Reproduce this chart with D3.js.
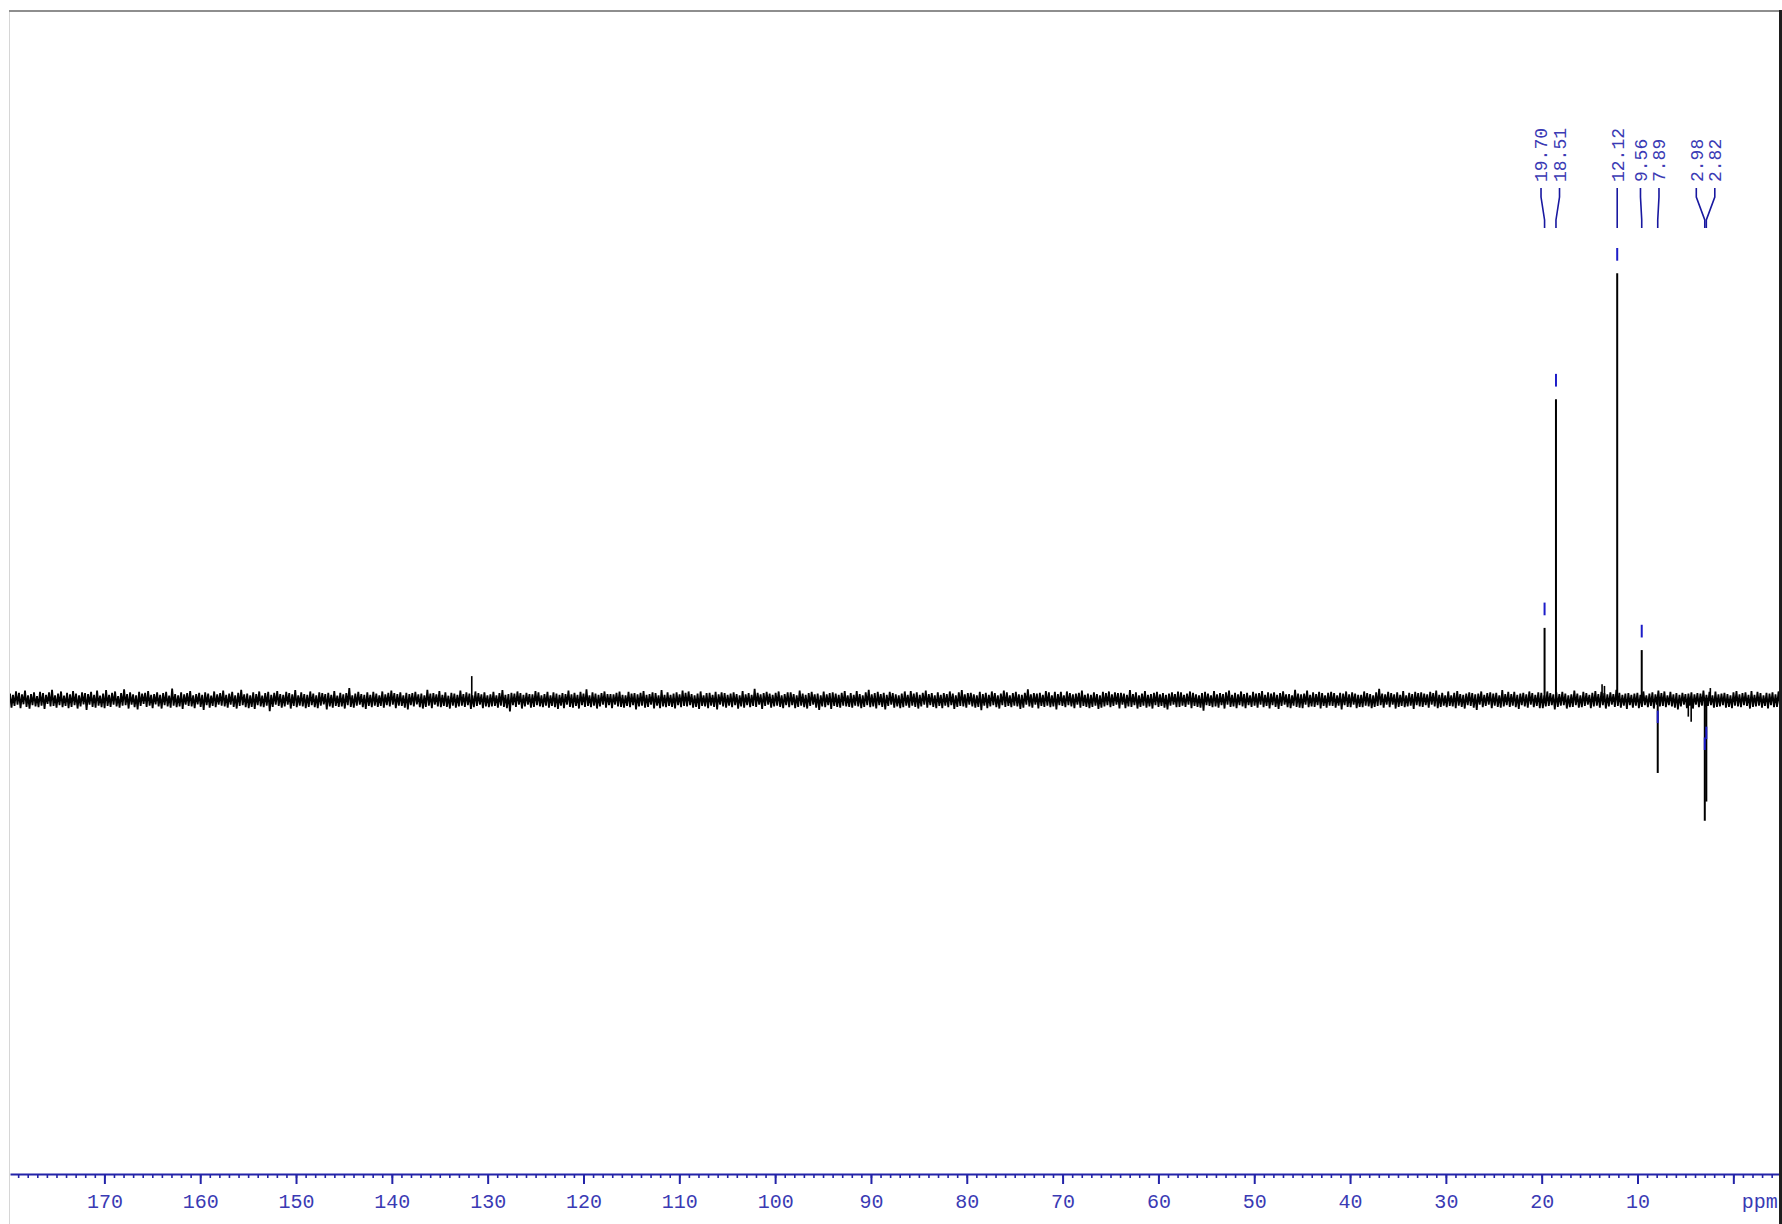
<!DOCTYPE html>
<html>
<head>
<meta charset="utf-8">
<script src="https://cdn.jsdelivr.net/npm/d3@7"></script>
<style>
  html, body { margin: 0; padding: 0; background: #fff; overflow: hidden; }
  svg { display: block; }
</style>
</head>
<body>
<svg id="chart" width="1782" height="1224"></svg>
<script>
// Chemical shift window shown (ppm), low field on the left
const ppmRange = [179.85, -4.87];

// Axis ticks (ppm) and their labels
const majorTicks = [170, 160, 150, 140, 130, 120, 110, 100, 90, 80, 70, 60, 50, 40, 30, 20, 10, 0];
const tickLabels = ["170", "160", "150", "140", "130", "120", "110", "100", "90", "80", "70", "60", "50", "40", "30", "20", "10", ""];
const unitLabel = "ppm";

// Picked peaks: shift (ppm), intensity (tallest = 1000), printed label
const peakShifts = [19.70, 18.51, 12.12, 9.56, 7.89, 2.98, 2.82];
const peakHeights = [169, 705, 1000, 117, -171, -283, -238];
const peakLabels = ["19.70", "18.51", "12.12", "9.56", "7.89", "2.98", "2.82"];

// Small unpicked signals standing out of the noise
const minorShifts = [131.66, 13.70, 13.45, 4.70, 4.40, 2.40];
const minorHeights = [56, 37, 33, -39, -51, 28];

// Baseline noise, evenly sampled across the window (same intensity units)
const noise = [
  15,-18,12,-14,20,-11,17,-19,13,-10,22,-16,11,-20,14,-12,18,-15,9,-17,
  19,-13,16,-21,12,-9,18,-15,24,-14,11,-18,15,-12,20,-17,10,-14,17,-19,
  13,-16,21,-12,15,-20,11,-15,18,-10,16,-23,14,-11,19,-16,12,-18,22,-13,
  10,-17,15,-19,23,-14,12,-16,17,-11,20,-15,9,-18,16,-13,25,-12,14,-20,
  18,-11,13,-17,11,-22,19,-14,15,-9,17,-16,21,-13,12,-19,14,-10,18,-15,
  12,-20,16,-12,19,-15,10,-18,27,-13,14,-17,11,-15,18,-21,13,-11,16,-14,
  21,-15,11,-19,14,-10,17,-16,12,-23,18,-12,15,-18,10,-14,20,-17,13,-11,
  16,-13,22,-15,12,-18,15,-11,19,-16,11,-20,17,-14,24,-12,13,-17,15,-19,
  11,-16,18,-21,14,-12,20,-15,10,-17,16,-13,19,-26,12,-16,17,-11,21,-14,
  14,-18,12,-15,19,-11,16,-20,13,-14,23,-17,11,-13,18,-15,14,-19,12,-16,
  20,-12,15,-17,11,-19,18,-13,16,-10,14,-22,17,-15,12,-18,21,-14,10,-16,
  17,-15,13,-20,16,-12,28,-16,11,-18,15,-13,19,-11,14,-17,12,-21,18,-14,
  12,-17,19,-13,15,-16,11,-14,20,-18,13,-12,17,-15,22,-11,16,-19,14,-13,
  18,-14,11,-18,17,-22,14,-12,16,-15,19,-10,13,-17,15,-20,11,-16,24,-13,
  15,-19,16,-11,13,-15,21,-17,12,-14,18,-16,10,-20,17,-13,15,-18,12,-15,
  22,-13,14,-16,18,-12,15,-21,11,-17,20,-14,16,-11,13,-19,18,-15,11,-17,
  13,-15,19,-14,11,-18,16,-13,23,-16,12,-19,14,-27,17,-12,15,-16,20,-11,
  16,-20,12,-15,17,-11,14,-18,13,-16,21,-12,18,-15,11,-17,14,-13,19,-18,
  11,-14,18,-17,15,-21,12,-13,16,-19,14,-11,22,-16,13,-18,17,-14,12,-20,
  19,-12,15,-16,25,-14,11,-17,18,-13,15,-20,12,-15,16,-11,20,-18,14,-12,
  14,-19,13,-11,17,-15,20,-16,12,-18,11,-14,19,-17,15,-12,16,-22,13,-15,
  17,-13,21,-18,12,-16,14,-11,18,-20,16,-13,11,-19,23,-15,12,-17,18,-14,
  12,-16,15,-20,18,-12,13,-17,22,-14,17,-15,20,-12,14,-18,11,-16,15,-21,
  20,-14,11,-15,16,-19,17,-13,12,-16,19,-22,13,-11,18,-15,16,-18,12,-13,
  15,-17,18,-12,14,-20,11,-15,21,-18,13,-12,16,-17,12,-14,26,-16,17,-11,
  13,-21,16,-14,19,-11,15,-18,12,-15,17,-13,20,-16,11,-19,14,-12,18,-17,
  18,-12,14,-19,11,-16,22,-13,15,-17,12,-20,16,-14,19,-11,13,-18,15,-23,
  11,-15,20,-17,13,-12,16,-21,18,-14,15,-16,12,-18,17,-13,21,-15,11,-16,
  16,-18,12,-13,21,-15,14,-19,11,-16,18,-12,24,-17,13,-15,16,-20,19,-12,
  14,-16,17,-22,12,-14,19,-11,16,-18,13,-15,11,-19,15,-17,20,-13,12,-18,
  21,-13,15,-16,18,-20,12,-15,17,-11,22,-18,14,-12,16,-16,11,-19,18,-14,
  12,-19,16,-13,14,-17,20,-12,15,-21,11,-16,18,-14,23,-15,13,-18,16,-11,
  17,-15,13,-18,11,-16,19,-24,14,-13,17,-19,12,-15,20,-12,16,-17,11,-20,
  15,-12,22,-16,18,-14,11,-17,16,-13,19,-15,13,-21,12,-18,17,-11,25,-15,
  13,-18,16,-11,15,-20,17,-14,12,-16,21,-13,18,-17,11,-15,19,-22,14,-12,
  19,-14,11,-17,20,-12,16,-15,13,-19,15,-11,17,-18,22,-14,12,-16,15,-19,
  12,-16,18,-13,14,-21,11,-18,19,-15,16,-12,20,-17,13,-14,18,-11,16,-20,
  17,-11,15,-19,12,-15,23,-16,14,-12,18,-20,11,-16,15,-13,21,-18,12,-15,
  14,-20,17,-12,19,-16,13,-14,16,-18,12,-22,15,-13,18,-11,14,-17,20,-16,
  18,-13,12,-16,15,-11,20,-19,17,-14,13,-16,11,-18,16,-25,19,-12,15,-14,
  11,-17,21,-15,13,-18,16,-12,14,-20,18,-11,22,-16,12,-15,17,-19,13,-12,
  20,-15,14,-19,17,-12,11,-16,19,-13,15,-18,16,-11,21,-17,12,-14,18,-20,
  15,-12,18,-16,12,-21,16,-14,20,-11,13,-17,14,-19,11,-13,24,-16,15,-18,
  13,-19,15,-11,22,-17,12,-15,18,-16,14,-12,19,-20,16,-14,11,-18,17,-13,
  19,-14,16,-18,11,-13,17,-22,15,-12,20,-16,13,-17,18,-11,15,-19,12,-16,
  12,-17,20,-13,16,-15,14,-19,11,-16,18,-14,26,-12,15,-18,13,-11,19,-17,
  16,-11,13,-20,18,-16,12,-14,21,-17,11,-15,17,-13,14,-21,19,-12,16,-15,
  18,-16,15,-12,13,-18,19,-11,16,-15,22,-19,12,-16,17,-13,11,-17,20,-14,
  11,-15,17,-19,21,-13,14,-16,12,-20,15,-12,18,-14,16,-18,13,-23,15,-11,
  20,-17,12,-14,16,-11,18,-19,15,-13,17,-16,11,-18,23,-15,14,-12,19,-16,
  14,-13,19,-17,12,-21,15,-12,17,-15,13,-18,20,-11,16,-17,12,-14,18,-19,
  17,-19,11,-15,20,-14,16,-12,13,-22,18,-16,14,-13,19,-12,15,-20,11,-17,
  13,-16,22,-12,15,-18,11,-17,19,-14,16,-11,12,-19,17,-15,21,-13,14,-18,
  19,-12,16,-20,13,-15,18,-11,14,-16,24,-14,17,-18,12,-13,15,-21,16,-12,
  12,-18,15,-13,17,-19,12,-16,20,-12,11,-17,15,-14,18,-20,13,-11,22,-15,
  16,-14,20,-17,11,-12,19,-15,13,-18,16,-22,12,-15,17,-11,14,-19,15,-13,
  18,-20,13,-11,16,-17,15,-13,22,-16,12,-14,19,-12,11,-18,20,-16,13,-15,
  15,-12,17,-18,14,-16,11,-19,18,-13,21,-15,13,-17,16,-12,18,-14,12,-20,
  21,-16,12,-15,19,-13,16,-18,11,-14,17,-20,15,-12,18,-17,13,-16,20,-14
];

const W = 1782, H = 1224;
const plotLeft = 10, plotRight = 1780, plotTop = 10;
const axisY = 1174;
const blue = "#2323a8", textBlue = "#3a3ab4", markBlue = "#1c1cc8";

const svg = d3.select("#chart");

const x = d3.scaleLinear().domain(ppmRange).range([plotLeft, plotRight]);
const y = d3.scaleLinear().domain([0, 1000]).range([700, 273.3]);

// Frame
svg.append("rect").attr("x", 9).attr("y", plotTop).attr("width", 1).attr("height", H - plotTop).attr("fill", "#d6d6d6");
svg.append("rect").attr("x", 9).attr("y", plotTop).attr("width", W - 9).attr("height", 2).attr("fill", "#8e8e8e");

svg.append("clipPath").attr("id", "plotClip")
  .append("rect").attr("x", plotLeft).attr("y", plotTop).attr("width", plotRight - plotLeft - 1).attr("height", axisY - plotTop);

const spec = svg.append("g").attr("clip-path", "url(#plotClip)");

// Baseline noise trace
const idx = d3.scaleLinear().domain([0, noise.length - 1]).range(ppmRange);
const line = d3.line().x(d => x(d[0])).y(d => y(d[1]));
spec.append("path")
  .datum(noise.map((v, i) => [idx(i), v]))
  .attr("d", line)
  .attr("fill", "none")
  .attr("stroke", "#000")
  .attr("stroke-width", 1.8)
  .attr("stroke-linejoin", "bevel");

// Small signals
spec.selectAll("line.minor").data(minorShifts).join("line")
  .attr("class", "minor")
  .attr("x1", d => x(d)).attr("x2", d => x(d))
  .attr("y1", y(0)).attr("y2", (d, i) => y(minorHeights[i]))
  .attr("stroke", "#000").attr("stroke-width", 1.6);

// Picked peaks
spec.selectAll("line.peak").data(peakShifts).join("line")
  .attr("class", "peak")
  .attr("x1", d => x(d)).attr("x2", d => x(d))
  .attr("y1", y(0)).attr("y2", (d, i) => y(peakHeights[i]))
  .attr("stroke", "#000").attr("stroke-width", 2);

// Peak pick markers
spec.selectAll("line.mark").data(peakShifts).join("line")
  .attr("class", "mark")
  .attr("x1", d => x(d)).attr("x2", d => x(d))
  .attr("y1", (d, i) => {
    const h = peakHeights[i], top = y(h);
    if (h > 0) return top - 25.3;
    const depth = top - y(0);
    return y(0) + 0.563 * depth - 18 - 12.5;
  })
  .attr("y2", (d, i) => {
    const h = peakHeights[i], top = y(h);
    if (h > 0) return top - 12.6;
    const depth = top - y(0);
    return y(0) + 0.563 * depth - 18;
  })
  .attr("stroke", markBlue).attr("stroke-width", 2);

// Label placement: spread crowded labels symmetrically with a minimum spacing
function spreadLabels(xs, gap) {
  let clusters = xs.map((v, i) => ({ lo: i, hi: i, c: v }));
  let merged = true;
  while (merged) {
    merged = false;
    for (let k = 0; k < clusters.length - 1; k++) {
      const a = clusters[k], b = clusters[k + 1];
      const aEnd = a.c + (a.hi - a.lo) * gap / 2;
      const bStart = b.c - (b.hi - b.lo) * gap / 2;
      if (bStart - aEnd < gap) {
        const lo = a.lo, hi = b.hi;
        clusters.splice(k, 2, { lo, hi, c: d3.mean(xs.slice(lo, hi + 1)) });
        merged = true;
        break;
      }
    }
  }
  const out = [];
  clusters.forEach(cl => {
    const n = cl.hi - cl.lo + 1;
    for (let i = 0; i < n; i++) out[cl.lo + i] = cl.c + (i - (n - 1) / 2) * gap;
  });
  return out;
}

const order = d3.range(peakShifts.length).sort((a, b) => x(peakShifts[a]) - x(peakShifts[b]));
const natural = order.map(i => x(peakShifts[i]));
const spread = spreadLabels(natural, 18.5);
const labelX = [];
order.forEach((i, k) => { labelX[i] = spread[k]; });

const labels = svg.append("g");
const connector = d3.line();
peakShifts.forEach((s, i) => {
  const lx = labelX[i], px = x(s);
  labels.append("path")
    .attr("d", connector([[lx, 188], [lx, 197], [px, 220], [px, 228]]))
    .attr("fill", "none").attr("stroke", "#1818a0").attr("stroke-width", 1.6);
  labels.append("text")
    .attr("transform", `translate(${lx},182) rotate(-90)`)
    .attr("dy", "0.35em")
    .attr("font-family", "'Liberation Mono', 'DejaVu Sans Mono', monospace")
    .attr("font-size", 18)
    .attr("fill", textBlue)
    .text(peakLabels[i]);
});

// Axis: minor ticks every 1 ppm, major every 10 ppm
const minorAxis = d3.axisBottom(x)
  .tickValues(d3.range(-4, 180, 1))
  .tickSize(4).tickSizeOuter(0).tickFormat("");
const gMinor = svg.append("g").attr("transform", `translate(0,${axisY})`).call(minorAxis);
gMinor.select(".domain").attr("stroke", blue).attr("stroke-width", 2);
gMinor.selectAll(".tick line").attr("stroke", blue).attr("stroke-width", 1.6);

const majorAxis = d3.axisBottom(x)
  .tickValues(majorTicks)
  .tickSize(10).tickSizeOuter(0).tickPadding(10)
  .tickFormat((d, i) => tickLabels[i]);
const gMajor = svg.append("g").attr("transform", `translate(0,${axisY})`).call(majorAxis);
gMajor.select(".domain").remove();
gMajor.selectAll(".tick line").attr("stroke", blue).attr("stroke-width", 2);
gMajor.selectAll(".tick text")
  .attr("font-family", "'Liberation Mono', 'DejaVu Sans Mono', monospace")
  .attr("font-size", 20)
  .attr("fill", textBlue);

svg.append("text")
  .attr("x", x(0) + 8.5).attr("y", 1208)
  .attr("font-family", "'Liberation Mono', 'DejaVu Sans Mono', monospace")
  .attr("font-size", 20)
  .attr("fill", textBlue)
  .text(unitLabel);

// Right window edge
svg.append("rect").attr("x", 1779).attr("y", plotTop).attr("width", 3).attr("height", H - plotTop).attr("fill", "#1e1e1e");
</script>
</body>
</html>
